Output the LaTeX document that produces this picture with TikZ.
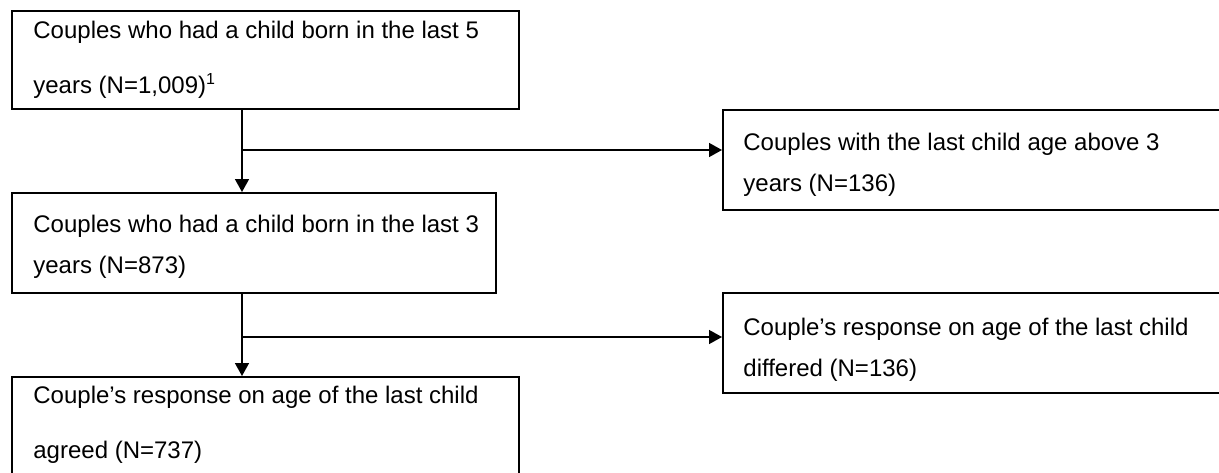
\documentclass[tikz,border=0pt]{standalone}
\usepackage{fontspec}
\setmainfont{Liberation Sans}
\usetikzlibrary{arrows.meta}
\tikzset{
  box/.style={rectangle,draw,line width=.75pt,anchor=north west,inner sep=0pt},
  txt/.style={anchor=base west,align=left,inner sep=0pt,font=\fontsize{12}{20.5}\selectfont},
  wide/.style={txt,font=\fontsize{12}{27.5}\selectfont},
  arr/.style={line width=.75pt,-{Triangle[length=6.5pt,width=7pt]}}
}
\begin{document}
\begin{tikzpicture}[x=.5pt,y=-.5pt]
\useasboundingbox (0,0) rectangle (1219,472);
\clip (0,0) rectangle (1219,472);
\node[box,minimum width=253.5pt,minimum height=49pt] (b1) at (11,10) {};
\node[box,minimum width=242pt,minimum height=50pt] (b2) at (11,192) {};
\node[box,minimum width=253.5pt,minimum height=55pt] (b3) at (11,376) {};
\node[box,minimum width=260pt,minimum height=50pt] (r1) at (722,109) {};
\node[box,minimum width=260pt,minimum height=50pt] (r2) at (722,292) {};
\node[wide] (t1) at (33,93) {Couples who had a child born in the last 5\\years (N=1,009)\textsuperscript{1}};
\node[txt] (t2) at (33,273) {Couples who had a child born in the last 3\\years (N=873)};
\node[wide] (t3) at (33,458) {Couple’s response on age of the last child\\agreed (N=737)};
\node[txt] (t4) at (743,191) {Couples with the last child age above 3\\years (N=136)};
\node[txt] (t5) at (743,376) {Couple’s response on age of the last child\\differed (N=136)};
\coordinate (j1) at (242,150);
\coordinate (j2) at (242,337);
\draw[arr] (j1 |- b1.south) -- (j1 |- b2.north);
\draw[arr] (j1) -- (j1 -| r1.west);
\draw[arr] (j2 |- b2.south) -- (j2 |- b3.north);
\draw[arr] (j2) -- (j2 -| r2.west);
\end{tikzpicture}
\end{document}
